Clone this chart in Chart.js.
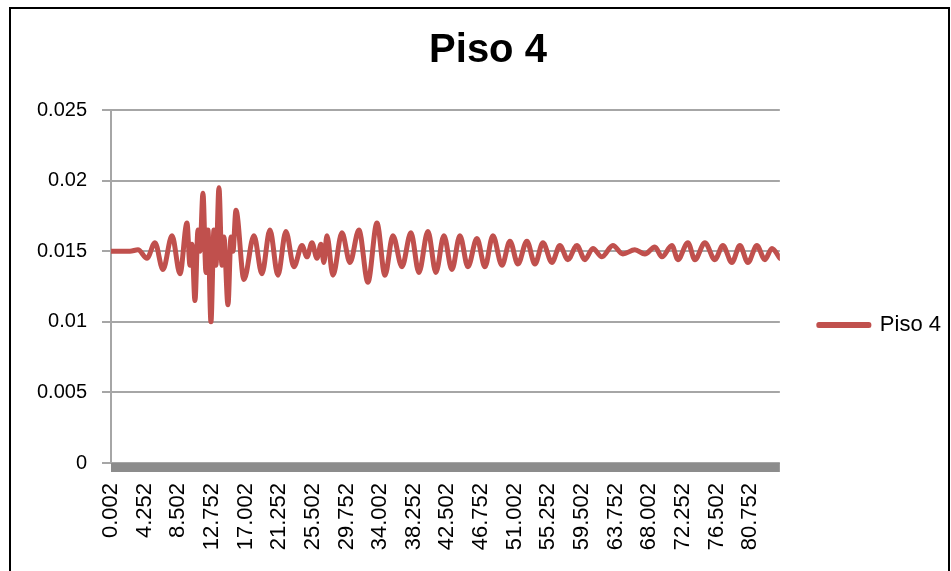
<!DOCTYPE html>
<html>
<head>
<meta charset="utf-8">
<script src="https://cdn.jsdelivr.net/npm/chart.js@4.4.1/dist/chart.umd.min.js"></script>
<style>
  body { margin: 0; background: #fff; }
  #frame { position: absolute; left: 9px; top: 7px; width: 937px; height: 600px; border: 2px solid #000; }
  canvas { position: absolute; left: 0; top: 0; }
</style>
</head>
<body>
<div id="frame"></div>
<canvas id="chart" width="951" height="571"></canvas>
<script>
const seriesName = "Piso 4";

// time (s) of each read-off point, and the value at that time
const times = [
  0.002, 2.40, 3.41, 4.55, 5.56, 6.57, 7.71, 8.72, 9.60, 9.98,
  10.23, 10.61, 10.99, 11.24, 11.62, 12.00, 12.25, 12.63, 13.01, 13.26,
  13.64, 14.02, 14.27, 14.78, 15.16, 15.41, 15.79, 16.80, 18.06, 19.07,
  20.08, 21.09, 22.10, 23.11, 24.13, 24.76, 25.39, 26.02, 26.53, 26.90,
  27.28, 28.04, 29.18, 30.19, 31.32, 32.46, 33.60, 34.61, 35.62, 36.76,
  37.89, 38.90, 40.04, 41.05, 42.06, 43.07, 44.08, 45.09, 46.23, 47.24,
  48.25, 49.39, 50.40, 51.41, 52.54, 53.56, 54.57, 55.70, 56.71, 57.72,
  58.86, 59.87, 60.88, 62.02, 63.40, 64.67, 66.18, 67.45, 68.71, 69.60,
  70.86, 71.62, 72.88, 73.77, 75.03, 76.29, 77.30, 78.44, 79.45, 80.46,
  81.60, 82.61, 83.50, 84.50
];
const piso4 = [
  0.0150, 0.0150, 0.0151, 0.0145, 0.0156, 0.0137, 0.0161, 0.0134, 0.0170, 0.0140,
  0.0155, 0.0115, 0.0165, 0.0150, 0.0191, 0.0135, 0.0165, 0.0100, 0.0165, 0.0140,
  0.0195, 0.0140, 0.0160, 0.0112, 0.0160, 0.0150, 0.0179, 0.0130, 0.0161, 0.0134,
  0.0165, 0.0133, 0.0164, 0.0139, 0.0154, 0.0146, 0.0156, 0.0145, 0.0155, 0.0142,
  0.0161, 0.0133, 0.0163, 0.0142, 0.0165, 0.0128, 0.0170, 0.0133, 0.0161, 0.0139,
  0.0163, 0.0135, 0.0164, 0.0135, 0.0161, 0.0137, 0.0161, 0.0139, 0.0159, 0.0139,
  0.0161, 0.0140, 0.0157, 0.0141, 0.0157, 0.0141, 0.0156, 0.0142, 0.0154, 0.0144,
  0.0154, 0.0144, 0.0152, 0.0146, 0.0154, 0.0148, 0.0151, 0.0148, 0.0153, 0.0146,
  0.0154, 0.0144, 0.0156, 0.0144, 0.0156, 0.0144, 0.0154, 0.0142, 0.0154, 0.0142,
  0.0154, 0.0144, 0.0152, 0.0145
];
const xTickLabels = [
  "0.002", "4.252", "8.502", "12.752", "17.002", "21.252", "25.502", "29.752", "34.002", "38.252",
  "42.502", "46.752", "51.002", "55.252", "59.502", "63.752", "68.002", "72.252", "76.502", "80.752"
];
const yMin = 0, yMax = 0.025, yStep = 0.005;
const xMin = 0.002, xMax = 84.5;

const red = "#c0504d";
const gridGray = "#a6a6a6";

// thick grey category axis, drawn just under the plot like Excel does
const axisBar = {
  id: "axisBar",
  afterDraw(chart) {
    const {ctx, chartArea} = chart;
    ctx.save();
    ctx.fillStyle = "#8c8c8c";
    ctx.fillRect(chartArea.left, chartArea.bottom, chartArea.right - chartArea.left, 9);
    ctx.restore();
  }
};

Chart.defaults.font.family = "'Liberation Sans', Arial, sans-serif";
Chart.defaults.color = "#000";

new Chart(document.getElementById("chart"), {
  type: "line",
  data: {
    datasets: [{
      label: seriesName,
      data: times.map((t, i) => ({x: t, y: piso4[i]})),
      borderColor: red,
      backgroundColor: red,
      borderWidth: 5,
      borderCapStyle: "round",
      borderJoinStyle: "round",
      pointRadius: 0,
      cubicInterpolationMode: "monotone",
      fill: false
    }]
  },
  options: {
    responsive: false,
    animation: false,
    layout: { padding: { left: 25, right: 0, top: 0, bottom: 0 } },
    plugins: {
      title: {
        display: true,
        text: seriesName,
        font: { size: 40, weight: "bold" },
        color: "#000",
        padding: { top: 27, bottom: 35 }
      },
      legend: {
        position: "right",
        // empty legend title only pushes the single entry down to mid plot
        title: { display: true, text: "", font: { size: 10 }, padding: { top: 0, bottom: 67 } },
        labels: {
          boxWidth: 50,
          boxHeight: 1,
          padding: 39,
          font: { size: 22 },
          color: "#000"
        }
      },
      tooltip: { enabled: false }
    },
    scales: {
      x: {
        type: "linear",
        min: xMin,
        max: xMax,
        afterFit: (s) => { s.height = 571 - 463; },
        afterBuildTicks: (s) => { s.ticks = xTickLabels.map(l => ({value: Number(l)})); },
        grid: { display: false, drawTicks: false },
        border: { display: false },
        ticks: {
          autoSkip: false,
          minRotation: 90,
          maxRotation: 90,
          padding: 20,
          font: { size: 22 },
          color: "#000",
          callback: (v, i) => xTickLabels[i]
        }
      },
      y: {
        min: yMin,
        max: yMax,
        afterFit: (s) => { s.width = 111 - 25; },
        grid: { color: gridGray, lineWidth: 2, tickLength: 9 },
        border: { color: gridGray, width: 2 },
        ticks: {
          stepSize: yStep,
          padding: 15,
          font: { size: 20 },
          color: "#000",
          callback: (v) => String(parseFloat(Number(v).toFixed(3)))
        }
      }
    }
  },
  plugins: [axisBar]
});
</script>
</body>
</html>
